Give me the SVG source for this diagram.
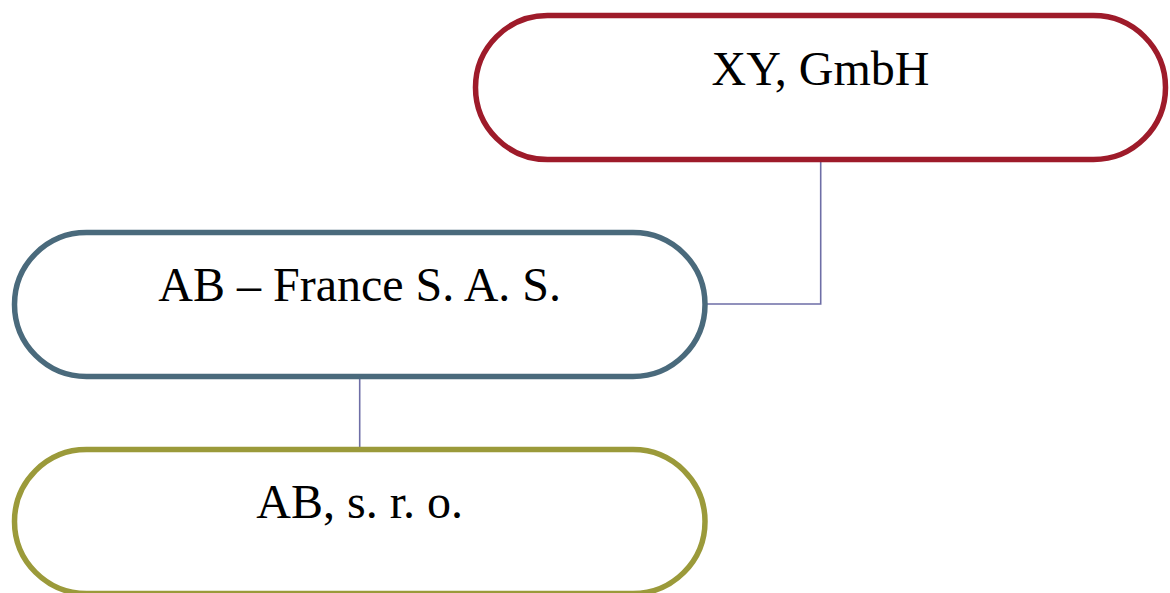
<svg xmlns="http://www.w3.org/2000/svg" width="1170" height="593" viewBox="0 0 1170 593">
<style>
.node{fill:#ffffff;stroke-width:5.5}
.lbl{font-family:"Liberation Serif","Times New Roman",serif;font-size:48px;fill:#000000;text-anchor:middle}
.conn{fill:none;stroke:#6e6ea6;stroke-width:1.6}
</style>
<rect width="1170" height="593" fill="#ffffff"/>
<g id="connectors">
<polyline class="conn" points="820.7,159.5 820.7,304 705,304"/>
<line class="conn" x1="359.7" y1="376.5" x2="359.7" y2="449.5"/>
</g>
<g id="node-xy">
<rect class="node" x="475.5" y="15.5" width="690" height="144" rx="72" ry="72" stroke="#9e1b2a"/>
<text class="lbl" x="820.5" y="85">XY, GmbH</text>
</g>
<g id="node-france">
<rect class="node" x="14.5" y="232.5" width="690.5" height="144" rx="72" ry="72" stroke="#4a6a7c"/>
<text class="lbl" x="359.7" y="301">AB – France S. A. S.</text>
</g>
<g id="node-sro">
<rect class="node" x="14.5" y="449.5" width="690.5" height="144" rx="72" ry="72" stroke="#9b9a3a"/>
<text class="lbl" x="359.7" y="518">AB, s. r. o.</text>
</g>
</svg>
